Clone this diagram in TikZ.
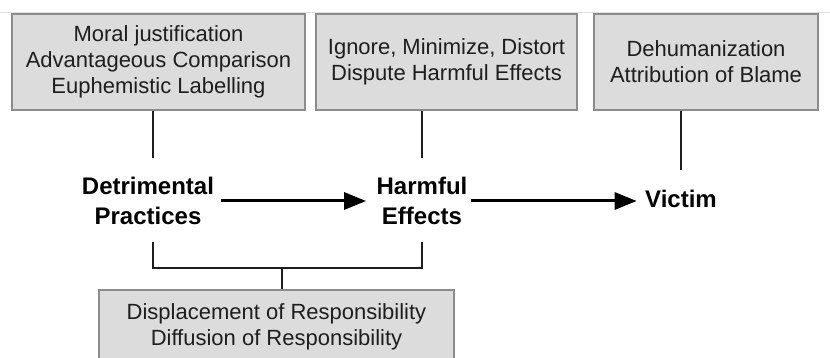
\documentclass[tikz,border=0pt]{standalone}
\usepackage{fontspec}
\setmainfont{Liberation Sans}
\usepackage{tikz}
\usetikzlibrary{arrows.meta}
\definecolor{boxfill}{HTML}{DCDCDC}
\definecolor{boxline}{HTML}{8C8C8C}
\definecolor{ink}{HTML}{1E1E1E}
\tikzset{box/.style={draw=boxline,fill=boxfill,line width=1.5pt,align=center,text=ink,
    font=\fontsize{22}{26}\selectfont,inner sep=0pt}}
\tikzset{key/.style={align=center,text=black,font=\fontsize{24}{30}\selectfont\bfseries}}
\tikzset{link/.style={draw=ink,line width=2pt}}
\tikzset{flow/.style={draw=black,line width=3pt,-{Triangle[length=22pt,width=17pt]}}}

\begin{document}
\begin{tikzpicture}[x=1pt,y=-1pt]
        \useasboundingbox (0,0) rectangle (830,358);
        \draw[gray!25,line width=1pt] (0,13) -- (830,13);
        % top boxes
        \node[box,minimum width=293,minimum height=96] (moral) at (158.5,62)
          {Moral justification\\Advantageous Comparison\\Euphemistic Labelling};
        \node[box,minimum width=261,minimum height=96] (ignore) at (446.5,62)
          {Ignore, Minimize, Distort\\Dispute Harmful Effects};
        \node[box,minimum width=224,minimum height=96] (dehum) at (706,62)
          {Dehumanization\\Attribution of Blame};
        % main chain
        \node[key] (detr) at (148,201) {Detrimental\\Practices};
        \node[key] (harm) at (422,201) {Harmful\\Effects};
        \node[key] (victim) at (681,199) {Victim};
        \draw[flow,shorten <=3pt,shorten >=7pt] (detr.east) -- (harm.west);
        \draw[flow,shorten >=5pt] (harm.east) -- (harm.east -| victim.west);
        % bottom box
        \node[box,minimum width=355,minimum height=74] (displ) at (276.5,327)
          {Displacement of Responsibility\\Diffusion of Responsibility};
        % links
        \coordinate (m1) at (153,158);
        \coordinate (i1) at (422,158);
        \coordinate (d1) at (681,170);
        \draw[link] (moral.south -| m1) -- (m1);
        \draw[link] (ignore.south -| i1) -- (i1);
        \draw[link] (dehum.south -| d1) -- (d1);
        \coordinate (bl) at (153,242);
        \coordinate (br) at (422,242);
        \coordinate (bm) at (282,268);
        \draw[link] (bl) |- (bm) -| (br);
        \draw[link] (bm) -- (bm |- displ.north);
      \end{tikzpicture}
\end{document}
